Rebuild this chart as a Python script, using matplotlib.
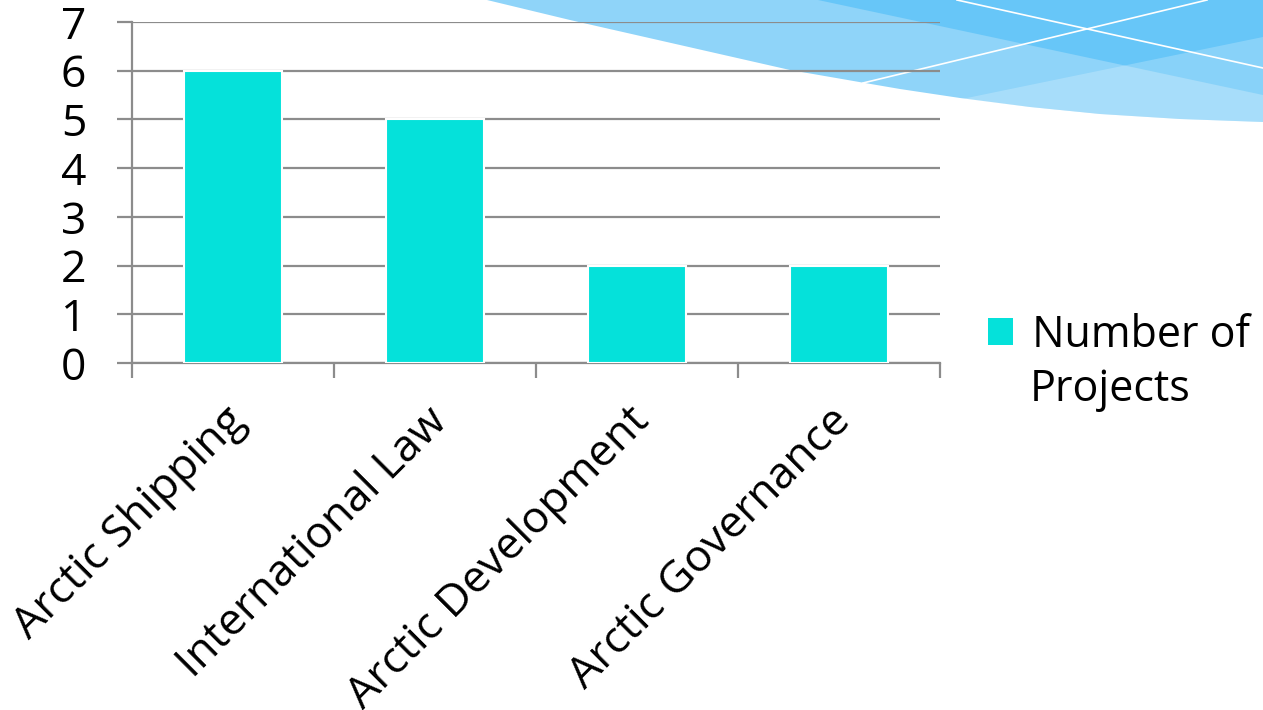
import matplotlib
matplotlib.use("Agg")
import matplotlib.pyplot as plt
from matplotlib.patches import Polygon, Rectangle
from matplotlib.transforms import ScaledTranslation
from matplotlib.lines import Line2D

plt.rcParams["font.family"] = ["Open Sans", "DejaVu Sans"]

# data
categories = ["Arctic Shipping", "International Law", "Arctic Development", "Arctic Governance"]
projects = [6, 5, 2, 2]
series_name = "Number of"
series_name2 = "Projects"
y_ticks = [0, 1, 2, 3, 4, 5, 6, 7]

BAR_COLOR = "#05E1DA"
GRID_COLOR = "#8C8C8C"
W, H = 1263, 710

fig = plt.figure(figsize=(W / 100, H / 100), dpi=100)


def px(pts):
    # pixel coords (top-left origin) -> figure fraction
    return [(x / W, 1 - y / H) for x, y in pts]


# decorative swoosh in the top right corner
lower_edge = [(487, 0), (570, 20), (680, 45), (790, 70), (865, 83), (900, 89),
              (960, 98), (1030, 107), (1100, 114), (1180, 119), (1263, 122)]
swoosh = lower_edge + [(1263, 0)]
fig.patches.append(Polygon(px(swoosh), closed=True, transform=fig.transFigure,
                           facecolor="#8FD4F9", edgecolor="none", zorder=0))
dark_band = [(818, 0), (1263, 0), (1263, 95)]
fig.patches.append(Polygon(px(dark_band), closed=True, transform=fig.transFigure,
                           facecolor="#67C6F8", edgecolor="none", zorder=0.1))
light_wedge = [(962, 99), (1263, 37), (1263, 122), (1180, 119), (1100, 114), (1030, 107)]
fig.patches.append(Polygon(px(light_wedge), closed=True, transform=fig.transFigure,
                           facecolor="white", alpha=0.22, edgecolor="none", zorder=0.2))
for seg in ([(957, 0), (1263, 68)], [(863, 83), (1207, 0)]):
    (x0, y0), (x1, y1) = px(seg)
    fig.lines.append(Line2D([x0, x1], [y0, y1], transform=fig.transFigure,
                            color="white", lw=1.2, zorder=0.3))

ax = fig.add_axes([132 / W, 1 - 363 / H, (940 - 132) / W, (363 - 22) / H])
ax.set_facecolor("none")
ax.set_zorder(1)

x = list(range(len(categories)))
bars = ax.bar(x, projects, width=0.49, color=BAR_COLOR, edgecolor="white",
              linewidth=1.5, zorder=3)

ax.set_xlim(-0.5, len(categories) - 0.5)
ax.set_ylim(0, 7)
ax.set_yticks(y_ticks)
ax.yaxis.grid(True, color=GRID_COLOR, linewidth=1.6, zorder=1)
ax.set_axisbelow(True)

for s in ["top", "right"]:
    ax.spines[s].set_visible(False)
for s in ["left", "bottom"]:
    ax.spines[s].set_color(GRID_COLOR)
    ax.spines[s].set_linewidth(1.6)

ax.tick_params(axis="y", length=11, width=1.6, color=GRID_COLOR, pad=22, labelsize=32)

# tick marks between categories, labels at category centres
ax.set_xticks([i - 0.5 for i in range(len(categories) + 1)], minor=True)
ax.tick_params(axis="x", which="minor", length=11, width=1.6, color=GRID_COLOR)
ax.set_xticks(x)
ax.set_xticklabels(categories, rotation=45, ha="right", va="top",
                   rotation_mode="anchor", fontsize=32)
ax.tick_params(axis="x", which="major", length=0, pad=26)
for lbl in ax.get_xticklabels():
    lbl.set_transform(lbl.get_transform() + ScaledTranslation(-10 / 100, 0, fig.dpi_scale_trans))

# legend
ax.legend([Rectangle((0, 0), 1, 1, facecolor=BAR_COLOR, edgecolor="none")],
          [" " + series_name], loc="upper left", bbox_to_anchor=(988 / W, 1 - 313 / H),
          bbox_transform=fig.transFigure, frameon=False, fontsize=31,
          handlelength=0.57, handleheight=0.57, handletextpad=0.2, borderpad=0,
          borderaxespad=0)
fig.text(1030 / W, 1 - 390 / H, series_name2, fontsize=31, va="center", ha="left")

fig.savefig("out.png", dpi=100)
